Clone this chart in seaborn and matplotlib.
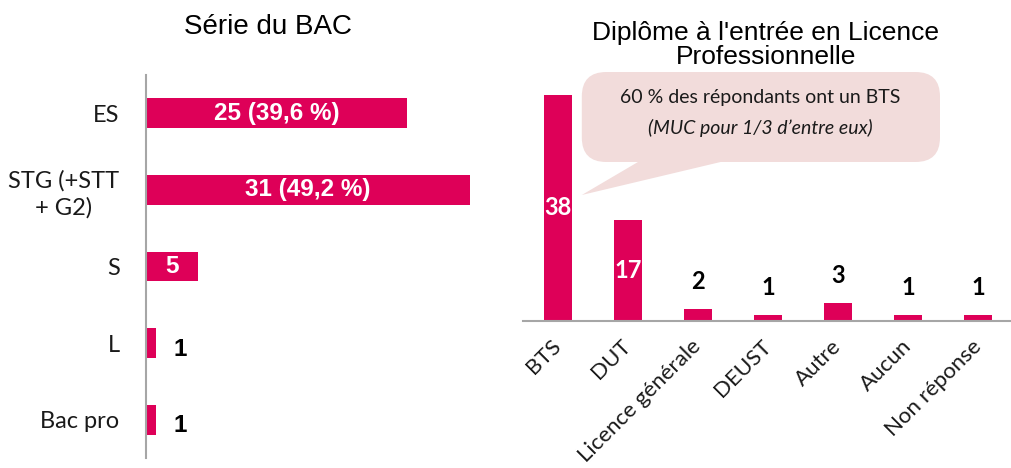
import numpy as np
import pandas as pd
import matplotlib
matplotlib.use("Agg")
import matplotlib.pyplot as plt
import seaborn as sns
from matplotlib.patches import FancyBboxPatch, Polygon

# data
bac_series = ["ES", "STG (+STT\n+ G2)", "S", "L", "Bac pro"]
bac_counts = [25, 31, 5, 1, 1]
bac_labels = ["25 (39,6 %)", "31 (49,2 %)", "5", "1", "1"]

diplomes = ["BTS", "DUT", "Licence générale", "DEUST", "Autre", "Aucun", "Non réponse"]
diplome_counts = [38, 17, 2, 1, 3, 1, 1]

BAR = "#DE0058"
SPINE = "#A6A6A6"
TITLEFONT = "Liberation Sans"

sns.set_style("white")
plt.rcParams["font.family"] = ["Lato", "DejaVu Sans"]

W, H = 1011, 468
fig = plt.figure(figsize=(W / 100, H / 100), dpi=100)

# ---- left chart: Série du BAC ----
ax1 = fig.add_axes([146 / W, 10 / H, 334 / W, 383 / H])
df1 = pd.DataFrame({"serie": bac_series, "n": bac_counts})
sns.barplot(data=df1, x="n", y="serie", color=BAR, width=0.39, ax=ax1,
            saturation=1, edgecolor="none")
ax1.set_xlim(0, 32)
ax1.set_ylim(len(bac_series) - 0.5, -0.5)
for s in ["top", "right", "bottom"]:
    ax1.spines[s].set_visible(False)
ax1.spines["left"].set_color(SPINE)
ax1.spines["left"].set_linewidth(1.5)
ax1.set_xticks([])
ax1.set_xlabel("")
ax1.set_ylabel("")
ax1.set_yticks(np.arange(len(bac_series) + 1) - 0.5, minor=True)
ax1.tick_params(axis="y", which="minor", length=9, width=1.5, color=SPINE, direction="out")
ax1.tick_params(axis="y", which="major", length=0, pad=19)
for lab in ax1.get_yticklabels():
    lab.set_fontsize(17)
    lab.set_multialignment("center")
    lab.set_linespacing(1.3)
    lab.set_color("#1a1a1a")

for i, (v, txt) in enumerate(zip(bac_counts, bac_labels)):
    if v >= 5:
        ax1.text(v / 2, i, txt, ha="center", va="center", color="white",
                 fontsize=17.5, fontweight="bold", family=TITLEFONT)
    else:
        ax1.text(v + 2.3, i + 0.08, txt, ha="center", va="center", color="black",
                 fontsize=17.5, fontweight="bold", family=TITLEFONT)

# ---- right chart: Diplôme ----
ax2 = fig.add_axes([523 / W, 147 / H, 490 / W, 240 / H])
df2 = pd.DataFrame({"diplome": diplomes, "n": diplome_counts})
sns.barplot(data=df2, x="diplome", y="n", color=BAR, width=0.39, ax=ax2,
            saturation=1, edgecolor="none")
ax2.set_ylim(0, 40.3)
ax2.set_xlim(-0.5, len(diplomes) - 0.5)
for s in ["top", "right", "left"]:
    ax2.spines[s].set_visible(False)
ax2.spines["bottom"].set_color(SPINE)
ax2.spines["bottom"].set_linewidth(1.5)
ax2.set_yticks([])
ax2.set_xlabel("")
ax2.set_ylabel("")
ax2.set_xticks(np.arange(len(diplomes) + 1) - 0.5, minor=True)
ax2.tick_params(axis="x", which="minor", length=8, width=1.5, color=SPINE, direction="out")
ax2.tick_params(axis="x", which="major", length=0, pad=16)
for lab in ax2.get_xticklabels():
    lab.set_fontsize(16)
    lab.set_rotation(45)
    lab.set_ha("right")
    lab.set_va("center")
    lab.set_rotation_mode("anchor")
    lab.set_color("#1a1a1a")

for i, v in enumerate(diplome_counts):
    if v >= 10:
        ax2.text(i, v / 2, str(v), ha="center", va="center", color="white",
                 fontsize=17, fontweight="bold")
    else:
        ax2.text(i, v + 4.6, str(v), ha="center", va="center", color="black",
                 fontsize=17, fontweight="bold")

# callout bubble
PINK = "#F2DCDB"
tail = Polygon([(0.120, 0.525), (0.245, 0.675), (0.429, 0.675)], closed=True,
               transform=ax2.transAxes, facecolor=PINK, edgecolor="none", clip_on=False)
ax2.add_patch(tail)
box = FancyBboxPatch((0.120, 0.6625), 0.731, 0.375,
                     boxstyle="round,pad=0,rounding_size=0.05",
                     mutation_aspect=490 / 240,
                     transform=ax2.transAxes, facecolor=PINK, edgecolor="none", clip_on=False)
ax2.add_patch(box)
ax2.text(0.484, 0.933, "60 % des répondants ont un BTS", transform=ax2.transAxes,
         ha="center", va="center", fontsize=14, color="#1a1a1a")
ax2.text(0.484, 0.804, "(MUC pour 1/3 d\u2019entre eux)", transform=ax2.transAxes,
         ha="center", va="center", fontsize=14, style="italic", color="#1a1a1a")

# titles
fig.text(268 / W, 1 - 27 / H, "Série du BAC", ha="center", va="center",
         fontsize=20, family=TITLEFONT, color="black")
fig.text(766 / W, 1 - 45 / H, "Diplôme à l'entrée en Licence\nProfessionnelle", ha="center",
         va="center", fontsize=19, family=TITLEFONT, color="black", linespacing=1.05)

fig.savefig("out.png", dpi=100, facecolor="white")
